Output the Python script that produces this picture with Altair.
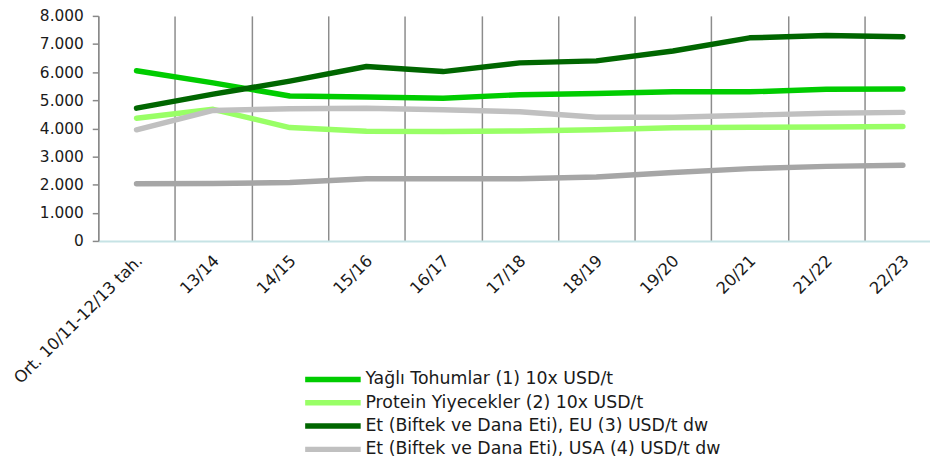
import altair as alt
import pandas as pd

categories = ["Ort. 10/11-12/13 tah.", "13/14", "14/15", "15/16", "16/17", "17/18",
              "18/19", "19/20", "20/21", "21/22", "22/23"]
yagli = [6050, 5620, 5150, 5120, 5070, 5200, 5240, 5300, 5300, 5390, 5400]
protein = [4360, 4680, 4030, 3900, 3890, 3910, 3950, 4020, 4040, 4050, 4070]
et_eu = [4720, 5220, 5680, 6200, 6020, 6330, 6400, 6750, 7220, 7300, 7260]
et_usa = [3950, 4640, 4700, 4720, 4660, 4590, 4400, 4400, 4470, 4540, 4570]
seri5 = [2030, 2040, 2080, 2210, 2210, 2210, 2270, 2430, 2570, 2650, 2690]

series_names = [
    "Yağlı Tohumlar (1) 10x USD/t",
    "Protein Yiyecekler (2) 10x USD/t",
    "Et (Biftek ve Dana Eti), EU (3) USD/t dw",
    "Et (Biftek ve Dana Eti), USA (4) USD/t dw",
    "Seri 5",
]
series_values = [yagli, protein, et_eu, et_usa, seri5]
series_colors = ["#00cc00", "#99ff66", "#006600", "#c0c0c0", "#a6a6a6"]

rows = []
for k, (name, vals) in enumerate(zip(series_names, series_values)):
    for c, v in zip(categories, vals):
        rows.append({"kat": c, "seri": name, "deger": v, "sira": k})
df = pd.DataFrame(rows)

FONT = "DejaVu Sans"
W, H = 839, 227
STEP = 77.3

chart = alt.Chart(df).mark_line(strokeWidth=5.5, strokeCap="round", strokeJoin="round").encode(
    x=alt.X("kat:N", sort=categories, title=None,
            scale=alt.Scale(range=[0, STEP * len(categories)], paddingInner=0, paddingOuter=0),
            axis=alt.Axis(tickBand="extent", grid=True, gridColor="#8c8c8c", gridWidth=1.5,
                          ticks=False, domainColor="#c6e3e5", domainWidth=2,
                          labelAngle=-45, labelAlign="right", labelBaseline="middle",
                          labelPadding=17, labelOffset=3, labelFont=FONT, labelFontSize=16.5,
                          labelColor="#1a1a1a", labelOverlap=False, labelLimit=400)),
    y=alt.Y("deger:Q", title=None,
            scale=alt.Scale(domain=[0, 8000], nice=False),
            axis=alt.Axis(values=list(range(0, 8001, 1000)), grid=False,
                          labelExpr="replace(format(datum.value, ','), ',', '.')",
                          domainColor="#898989", domainWidth=1.5,
                          tickColor="#898989", tickWidth=1.5, tickSize=6,
                          labelPadding=9, labelFont=FONT, labelFontSize=15.5,
                          labelColor="#1a1a1a")),
    color=alt.Color("seri:N", sort=series_names,
                    scale=alt.Scale(domain=series_names, range=series_colors),
                    legend=alt.Legend(values=series_names[:4], title=None, orient="none",
                                      legendX=228, legendY=358, padding=0,
                                      symbolType="M-7,0L7,0", symbolSize=64,
                                      symbolStrokeWidth=5.5, labelFont=FONT,
                                      labelFontSize=17.5, labelColor="#1a1a1a",
                                      labelOffset=24, rowPadding=0.5, labelLimit=500)),
    order=alt.Order("sira:Q"),
    detail="seri:N",
).properties(
    width=W, height=H,
    autosize=alt.AutoSizeParams(type="none"),
    padding={"left": 91, "top": 6, "right": 0, "bottom": 218},
).configure_view(stroke=None)

chart.save("out.html", embed_options={"renderer": "svg", "actions": False})
